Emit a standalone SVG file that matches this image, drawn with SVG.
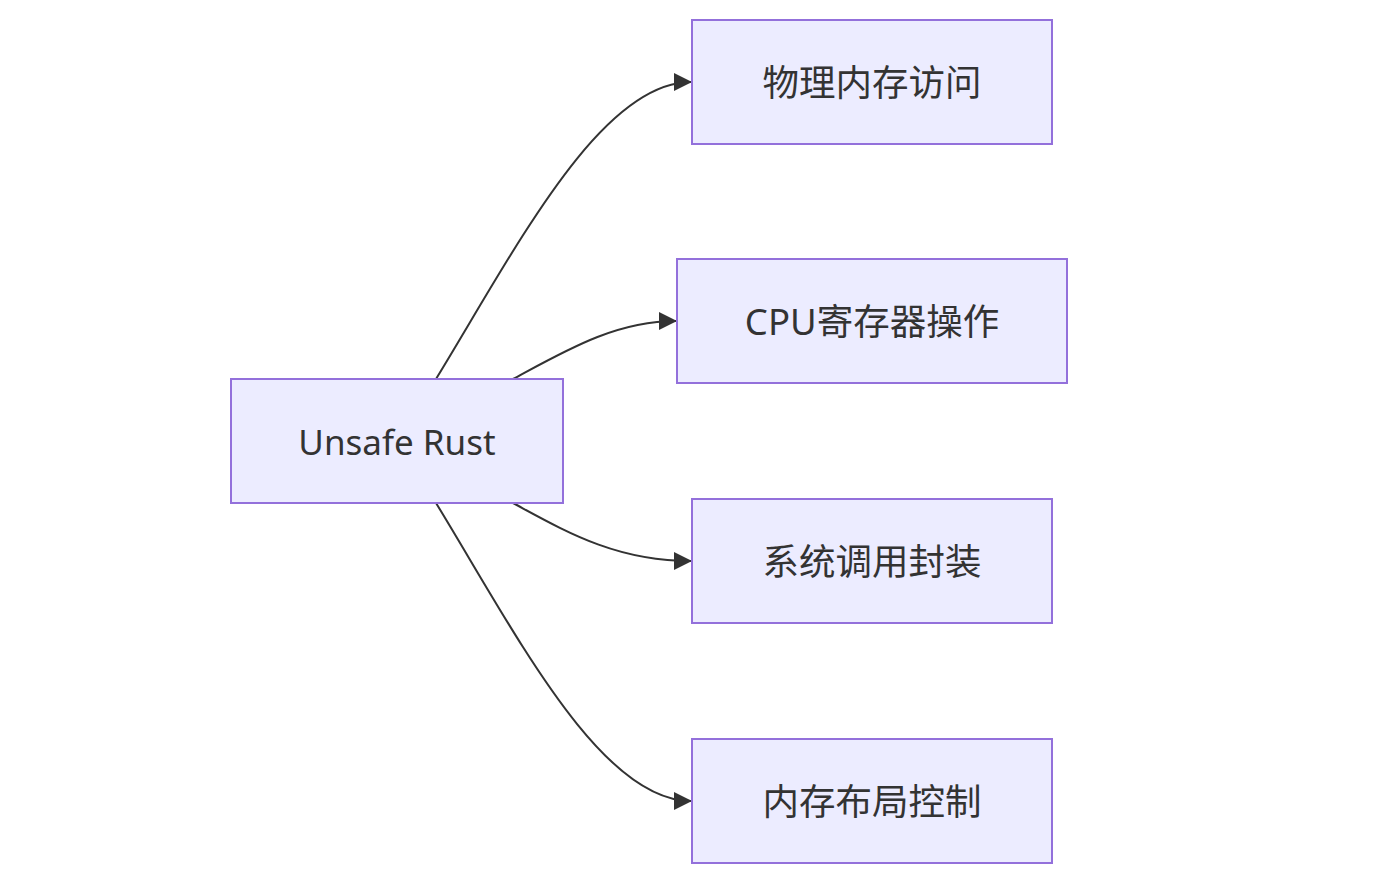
<svg xmlns="http://www.w3.org/2000/svg" width="1389" height="883" viewBox="0 0 1389 883">
<style>
.box{fill:#ECECFF;stroke:#9370DB;stroke-width:2}
.lbl{font-family:"Noto Sans","Noto Sans CJK SC",sans-serif;font-size:36.5px;fill:#333;text-anchor:middle;dominant-baseline:central}
.lat{font-size:35px}
.edge{fill:none;stroke:#333;stroke-width:2}
</style>
<defs>
<marker id="arr" viewBox="0 0 18 18" refX="17" refY="9" markerWidth="18" markerHeight="18" markerUnits="userSpaceOnUse" orient="auto">
<path d="M0,0 L18,9 L0,18 z" fill="#333"/>
</marker>
</defs>
<rect width="1389" height="883" fill="#fff"/>
<g id="edges">
<path class="edge" marker-end="url(#arr)" d="M436,379 C515,250 600,82 691,82"/>
<path class="edge" marker-end="url(#arr)" d="M513,379 C565,351 615,321 676,321"/>
<path class="edge" marker-end="url(#arr)" d="M513,503 C565,531 615,561 691,561"/>
<path class="edge" marker-end="url(#arr)" d="M436,503 C515,632 600,801 691,801"/>
</g>
<g id="unsafe">
<rect class="box" x="231" y="379" width="332" height="124"/>
<text class="lbl lat" x="397" y="441">Unsafe Rust</text>
</g>
<g id="n1">
<rect class="box" x="692" y="20" width="360" height="124"/>
<text class="lbl" x="872" y="82">物理内存访问</text>
</g>
<g id="n2">
<rect class="box" x="677" y="259" width="390" height="124"/>
<text class="lbl" x="872" y="321">CPU寄存器操作</text>
</g>
<g id="n3">
<rect class="box" x="692" y="499" width="360" height="124"/>
<text class="lbl" x="872" y="561">系统调用封装</text>
</g>
<g id="n4">
<rect class="box" x="692" y="739" width="360" height="124"/>
<text class="lbl" x="872" y="801">内存布局控制</text>
</g>
</svg>
